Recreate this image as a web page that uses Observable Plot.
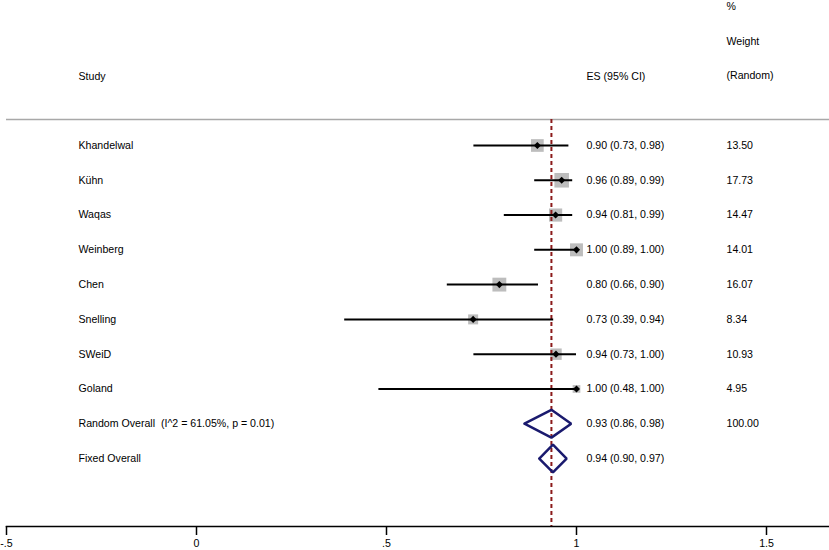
<!DOCTYPE html>
<html>
<head>
<meta charset="utf-8">
<script src="https://cdn.jsdelivr.net/npm/d3@7"></script>
<script src="https://cdn.jsdelivr.net/npm/@observablehq/plot@0.6"></script>
<style>
  html, body { margin: 0; padding: 0; background: #fff; }
  #chart svg { display: block; }
</style>
</head>
<body>
<div id="chart"></div>
<script>
// ---- Data ----
const studies = ["Khandelwal", "Kühn", "Waqas", "Weinberg", "Chen", "Snelling", "SWeiD", "Goland"];
const es      = [0.897, 0.961, 0.945, 1.00, 0.797, 0.728, 0.946, 1.00];
const lower   = [0.73, 0.89, 0.81, 0.89, 0.66, 0.39, 0.73, 0.48];
const upper   = [0.98, 0.99, 0.99, 1.00, 0.90, 0.94, 1.00, 1.00];
const esText  = ["0.90 (0.73, 0.98)", "0.96 (0.89, 0.99)", "0.94 (0.81, 0.99)", "1.00 (0.89, 1.00)",
                 "0.80 (0.66, 0.90)", "0.73 (0.39, 0.94)", "0.94 (0.73, 1.00)", "1.00 (0.48, 1.00)"];
const weights = [13.50, 17.73, 14.47, 14.01, 16.07, 8.34, 10.93, 4.95];
const weightText = ["13.50", "17.73", "14.47", "14.01", "16.07", "8.34", "10.93", "4.95"];

const pooledNames  = ["Random Overall  (I^2 = 61.05%, p = 0.01)", "Fixed Overall"];
const pooledES     = [0.934, 0.938];
const pooledLower  = [0.863, 0.902];
const pooledUpper  = [0.986, 0.974];
const pooledESText = ["0.93 (0.86, 0.98)", "0.94 (0.90, 0.97)"];
const pooledWeightText = ["100.00", ""];

const xTicks = [-0.5, 0, 0.5, 1, 1.5];
const headerStudy = "Study";
const headerES = "ES (95% CI)";
const headerWeight = ["%", "Weight", "(Random)"];

// ---- Derived tables ----
const rows = studies.map((s, i) => ({
  study: s, es: es[i], lo: lower[i], hi: upper[i],
  esText: esText[i], w: weights[i], wText: weightText[i], row: i
}));
const pooled = pooledNames.map((s, i) => ({
  study: s, es: pooledES[i], lo: pooledLower[i], hi: pooledUpper[i],
  esText: pooledESText[i], wText: pooledWeightText[i], row: studies.length + i
}));
const half = 0.4;
const diamonds = pooled.flatMap((d, i) => [
  {x: d.lo, y: d.row, z: i},
  {x: d.es, y: d.row - half, z: i},
  {x: d.hi, y: d.row, z: i},
  {x: d.es, y: d.row + half, z: i},
  {x: d.lo, y: d.row, z: i}
]);
const allRows = rows.concat(pooled);

const fmt = d => d === 0 ? "0" : String(d).replace(/^(-?)0\./, "$1.");
const font = "'Liberation Sans', Arial, sans-serif";
const fs = 10.6;

const chart = Plot.plot({
  width: 829,
  height: 550,
  marginLeft: 6,
  marginRight: 0,
  marginTop: 0,
  marginBottom: 24,
  style: {fontFamily: font, fontSize: fs + "px", background: "#fff", color: "#000", overflow: "visible"},
  x: {domain: [-0.5, 1.6658], label: null},
  y: {domain: [10.955, -4.169], axis: null},
  r: {type: "sqrt", domain: [0, 100], range: [0, 19.52]},
  marks: [
    // header separator
    Plot.ruleY([-0.75], {stroke: "#a8a8a8", strokeWidth: 1.5}),
    // weight boxes
    Plot.dot(rows, {x: "es", y: "row", r: "w", symbol: "square", fill: "#bdbdbd", stroke: "none"}),
    // reference (pooled) dashed line
    Plot.ruleX([pooledES[0]], {y1: () => -0.75, y2: () => 10.955, stroke: "#8b1a1a", strokeWidth: 2, strokeDasharray: "4,3"}),
    // confidence intervals
    Plot.ruleY(rows, {x1: "lo", x2: "hi", y: "row", stroke: "#000", strokeWidth: 2}),
    // point estimates
    Plot.dot(rows, {x: "es", y: "row", symbol: "diamond2", r: 3.2, fill: "#000", stroke: "none"}),
    // pooled diamonds
    Plot.line(diamonds, {x: "x", y: "y", z: "z", stroke: "#1a1a6e", strokeWidth: 2.5, strokeLinejoin: "miter", curve: "linear"}),
    // text columns
    Plot.text(allRows, {y: "row", text: "study", frameAnchor: "left", dx: 72, textAnchor: "start", lineAnchor: "middle", fill: "#000", fontSize: fs}),
    Plot.text(allRows, {y: "row", text: "esText", frameAnchor: "left", dx: 580, textAnchor: "start", lineAnchor: "middle", fill: "#000", fontSize: fs}),
    Plot.text(allRows, {y: "row", text: "wText", frameAnchor: "left", dx: 720, textAnchor: "start", lineAnchor: "middle", fill: "#000", fontSize: fs}),
    // headers
    Plot.text([headerStudy], {frameAnchor: "top-left", dx: 72, dy: 76, textAnchor: "start", lineAnchor: "middle", fill: "#000", fontSize: fs}),
    Plot.text([headerES], {frameAnchor: "top-left", dx: 580, dy: 76, textAnchor: "start", lineAnchor: "middle", fill: "#000", fontSize: fs}),
    Plot.text(headerWeight, {y: (d, i) => -4 + i, text: d => d, frameAnchor: "left", dx: 720, textAnchor: "start", lineAnchor: "middle", fill: "#000", fontSize: fs}),
    // x axis
    Plot.frame({anchor: "bottom", stroke: "#000", strokeWidth: 1.5}),
    Plot.axisX({ticks: xTicks, tickFormat: fmt, tickSize: 9, tickPadding: 4, strokeWidth: 1.5, stroke: "#000", fill: "#000", fontSize: fs, label: null})
  ]
});
document.getElementById("chart").appendChild(chart);
</script>
</body>
</html>
